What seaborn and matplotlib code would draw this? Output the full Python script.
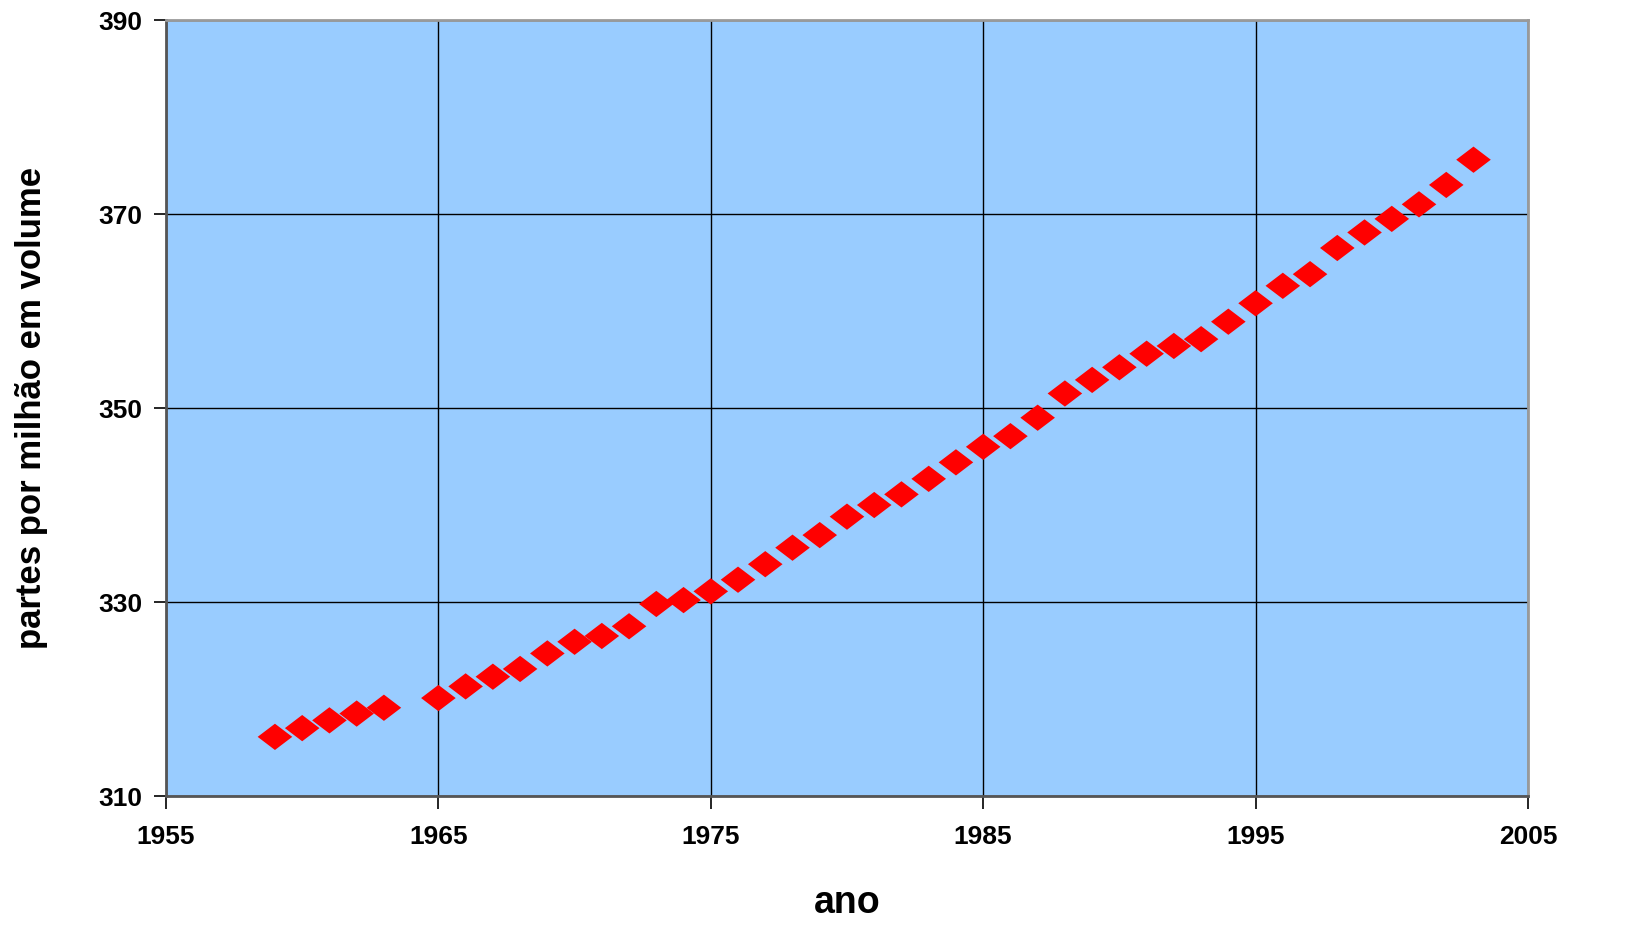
import matplotlib
matplotlib.use("Agg")
import matplotlib.pyplot as plt
from matplotlib.path import Path
import pandas as pd
import seaborn as sns

# ─────────────────────────────────────────────
# DATA (annual mean CO2, ppmv)
# ─────────────────────────────────────────────
years = [1959, 1960, 1961, 1962, 1963, 1965, 1966, 1967, 1968, 1969,
         1970, 1971, 1972, 1973, 1974, 1975, 1976, 1977, 1978, 1979,
         1980, 1981, 1982, 1983, 1984, 1985, 1986, 1987, 1988, 1989,
         1990, 1991, 1992, 1993, 1994, 1995, 1996, 1997, 1998, 1999,
         2000, 2001, 2002, 2003]
ppmv = [316.1, 317.0, 317.8, 318.5, 319.1, 320.1, 321.3, 322.3, 323.1, 324.7,
        325.9, 326.5, 327.5, 329.8, 330.2, 331.1, 332.3, 333.9, 335.6, 336.9,
        338.8, 340.0, 341.1, 342.7, 344.4, 346.0, 347.1, 349.0, 351.5, 352.9,
        354.2, 355.6, 356.4, 357.1, 358.9, 360.8, 362.6, 363.8, 366.5, 368.1,
        369.5, 371.0, 373.0, 375.6]
x_ticks = [1955, 1965, 1975, 1985, 1995, 2005]
y_ticks = [310, 330, 350, 370, 390]

df = pd.DataFrame({"ano": years, "ppmv": ppmv})

# ─────────────────────────────────────────────
# PLOT
# ─────────────────────────────────────────────
sns.set_theme(style="white")
plt.rcParams["font.family"] = ["Liberation Sans", "DejaVu Sans"]
plt.rcParams["text.color"] = "black"
plt.rcParams["axes.labelcolor"] = "black"
plt.rcParams["xtick.color"] = "black"
plt.rcParams["ytick.color"] = "black"

# wide diamond marker
diamond = Path([(-1, 0), (0, 0.76), (1, 0), (0, -0.76), (-1, 0)],
               [Path.MOVETO, Path.LINETO, Path.LINETO, Path.LINETO, Path.CLOSEPOLY])

fig = plt.figure(figsize=(16.37, 9.32), dpi=100)
ax = fig.add_axes([0.1014, 0.1459, 0.8320, 0.8326])
ax.set_facecolor("#99CCFF")

sns.scatterplot(data=df, x="ano", y="ppmv", marker=diamond, s=620,
                color="#FF0000", edgecolor="none", linewidth=0, ax=ax, zorder=3)

ax.set_xlim(1955, 2005)
ax.set_ylim(310, 390)
ax.set_xticks(x_ticks)
ax.set_yticks(y_ticks)
ax.grid(True, color="black", linewidth=1.0)
ax.set_axisbelow(True)

for side in ["left", "bottom"]:
    ax.spines[side].set_color("#555555")
    ax.spines[side].set_linewidth(2.0)
for side in ["top", "right"]:
    ax.spines[side].set_color("#999999")
    ax.spines[side].set_linewidth(2.0)

ax.tick_params(axis="both", which="major", direction="out", length=9,
               width=1.2, color="black", labelcolor="black", labelsize=19,
               bottom=True, left=True, pad=8)
ax.tick_params(axis="x", pad=12)
for lab in ax.get_xticklabels() + ax.get_yticklabels():
    lab.set_fontweight("bold")

ax.set_xlabel("ano", fontsize=27, fontweight="bold", labelpad=26, color="black")
ax.set_ylabel("partes por milhão em volume", fontsize=25, fontweight="bold",
              labelpad=36, color="black")

fig.savefig("out.png", dpi=100)
